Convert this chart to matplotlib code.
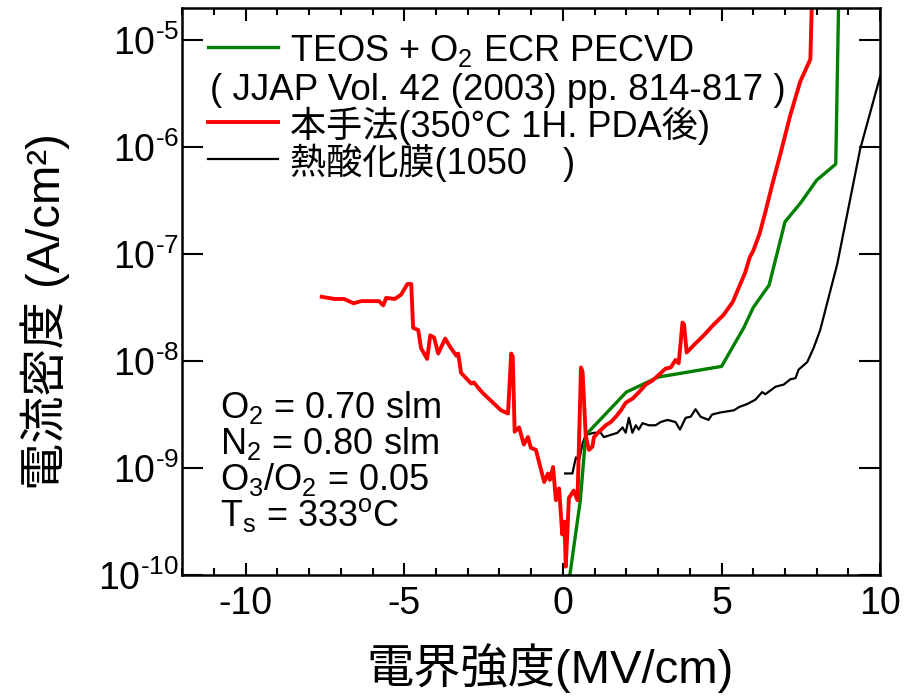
import matplotlib
matplotlib.use('Agg')
import matplotlib.pyplot as plt
import numpy as np
from matplotlib.ticker import MultipleLocator, NullLocator, LogLocator, FuncFormatter

plt.rcParams['font.family'] = ['Liberation Sans', 'Noto Sans CJK JP']
plt.rcParams['mathtext.fontset'] = 'custom'
plt.rcParams['mathtext.rm'] = 'Liberation Sans'
plt.rcParams['mathtext.it'] = 'Liberation Sans:italic'
plt.rcParams['mathtext.bf'] = 'Liberation Sans:bold'
plt.rcParams['mathtext.default'] = 'regular'
plt.rcParams['axes.unicode_minus'] = False

# electric field (MV/cm) and log10 of current density (A/cm2)
red_E = [-7.6, -7.2, -6.9, -6.6, -6.35, -5.8, -5.66, -5.57, -5.3, -5.1, -4.9, -4.78,
         -4.72, -4.56, -4.47, -4.28, -4.18, -4.06, -3.93, -3.71, -3.55, -3.36, -3.30,
         -3.21, -2.89, -2.80, -2.67, -2.52, -2.2, -1.95, -1.73, -1.63, -1.58, -1.52,
         -1.38, -1.23, -1.10, -1.01, -0.85, -0.59, -0.47, -0.41, -0.31, -0.22, -0.12,
         -0.02, 0.05, 0.09, 0.19, 0.34, 0.46, 0.57, 0.62, 0.72, 0.82, 0.93, 0.98, 1.14,
         1.35, 1.51, 1.67, 1.83, 1.98, 2.2, 2.4, 2.61, 2.83, 3.02, 3.24, 3.40, 3.55,
         3.65, 3.77, 3.82, 3.90, 4.13, 4.44, 4.75, 5.06, 5.35, 5.75, 5.89, 6.0, 6.2,
         6.38, 6.6, 6.86, 7.17, 7.48, 7.8, 7.86]
red_logJ = [-7.40, -7.42, -7.42, -7.46, -7.44, -7.44, -7.48, -7.41, -7.42, -7.38, -7.28,
            -7.28, -7.69, -7.71, -7.88, -7.98, -7.76, -7.78, -7.93, -7.79, -7.87, -7.95,
            -7.93, -8.11, -8.21, -8.20, -8.25, -8.30, -8.39, -8.46, -8.49, -7.93, -7.96,
            -8.66, -8.62, -8.78, -8.71, -8.81, -8.83, -9.13, -9.05, -9.11, -8.99, -9.30,
            -9.19, -9.62, -9.50, -9.92, -9.28, -9.21, -9.30, -8.06, -8.10, -8.70, -8.83,
            -8.80, -8.71, -8.66, -8.60, -8.57, -8.52, -8.46, -8.39, -8.35, -8.29, -8.22,
            -8.18, -8.13, -8.07, -8.06, -7.99, -8.02, -7.64, -7.66, -7.92, -7.85, -7.76,
            -7.66, -7.57, -7.45, -7.17, -7.03, -6.97, -6.81, -6.61, -6.35, -6.06, -5.70,
            -5.39, -5.18, -4.5]

green_E = [0.21, 0.55, 0.72, 2.0, 3.0, 5.0, 5.7, 6.0, 6.5, 7.0, 7.5, 8.0, 8.6, 8.7]
green_logJ = [-10.02, -9.30, -8.69, -8.29, -8.15, -8.05, -7.69, -7.50, -7.29, -6.70,
              -6.52, -6.31, -6.16, -4.5]

black_E = [0.07, 0.3, 0.41, 0.51, 0.62, 0.72, 0.98, 1.19, 1.29, 1.51, 1.72, 1.88, 1.98,
           2.08, 2.19, 2.30, 2.39, 2.51, 2.71, 2.92, 3.08, 3.30, 3.55, 3.69, 3.87, 4.03,
           4.18, 4.34, 4.59, 4.7, 4.97, 5.39, 5.55, 5.82, 6.07, 6.28, 6.38, 6.70, 6.96,
           7.17, 7.33, 7.43, 7.70, 7.9, 8.11, 8.65, 9.37, 10.0]
black_logJ = [-9.05, -9.05, -8.90, -8.93, -8.77, -8.69, -8.67, -8.67, -8.71, -8.69, -8.67,
              -8.62, -8.67, -8.53, -8.67, -8.60, -8.64, -8.58, -8.60, -8.60, -8.57, -8.55,
              -8.57, -8.64, -8.53, -8.52, -8.45, -8.52, -8.55, -8.50, -8.48, -8.46, -8.43,
              -8.40, -8.36, -8.29, -8.31, -8.24, -8.22, -8.17, -8.16, -8.08, -8.01, -7.88,
              -7.71, -7.09, -6.02, -5.34]

green_label = 'TEOS + O$_2$ ECR PECVD'
ref_label = '( JJAP Vol. 42 (2003) pp. 814-817 )'
red_label = '本手法(350°C 1H. PDA後)'
black_label = '熱酸化膜(1050\u3000)'
conditions = ['O$_2$ = 0.70 slm', 'N$_2$ = 0.80 slm', 'O$_3$/O$_2$ = 0.05',
              'T$_s$ = 333$^o$C']


def decade_label(v, pos):
    return '$10^{\\text{-}%d}$' % round(-np.log10(v))


fig = plt.figure(figsize=(9.2, 6.98), dpi=100)
ax = fig.add_axes([0.198, 0.176, 0.7587, 0.813])

ax.plot(black_E, 10.0 ** np.array(black_logJ), color='black', lw=1.6)
ax.plot(green_E, 10.0 ** np.array(green_logJ), color='#008000', lw=2.4)
ax.plot(red_E, 10.0 ** np.array(red_logJ), color='#ff0000', lw=2.8)

ax.set_yscale('log')
ax.set_xlim(-12, 10)
ax.set_ylim(1e-10, 2e-5)
ax.xaxis.set_major_locator(MultipleLocator(5))
ax.xaxis.set_minor_locator(MultipleLocator(1))
ax.yaxis.set_major_locator(LogLocator(base=10, numticks=12))
ax.yaxis.set_minor_locator(NullLocator())
ax.yaxis.set_major_formatter(FuncFormatter(decade_label))
ax.tick_params(which='both', direction='in', top=True, right=True, width=1.5)
ax.tick_params(axis='x', which='major', length=9, labelsize=27, pad=8)
ax.tick_params(axis='x', which='minor', length=5)
ax.tick_params(axis='y', which='major', length=15, labelsize=27, pad=2)
for s in ax.spines.values():
    s.set_linewidth(1.8)

ax.set_xlabel('電界強度(MV/cm)', fontsize=34)
ax.xaxis.set_label_coords(0.527, -0.12)
ax.set_ylabel('電流密度 (A/cm²)', fontsize=34)
ax.yaxis.set_label_coords(-0.16, 0.465)

# legend, drawn by hand so the reference line sits under the green entry
tr = ax.transAxes
for lab, col, lw, yl, yt in [(green_label, '#008000', 2.4, 0.931, 0.906),
                             (red_label, '#ff0000', 2.8, 0.798, 0.772),
                             (black_label, 'black', 1.6, 0.733, 0.707)]:
    ax.plot([0.037, 0.1375], [yl, yl], color=col, lw=lw, transform=tr)
    ax.text(0.155, yt, lab, fontsize=26, va='baseline', transform=tr)
ax.text(0.040, 0.837, ref_label, fontsize=26.5, va='baseline', transform=tr)

for i, txt in enumerate(conditions):
    ax.text(0.054, 0.277 - i * 0.0635, txt, fontsize=26, va='baseline', transform=tr)

fig.savefig('out.png', dpi=100)
